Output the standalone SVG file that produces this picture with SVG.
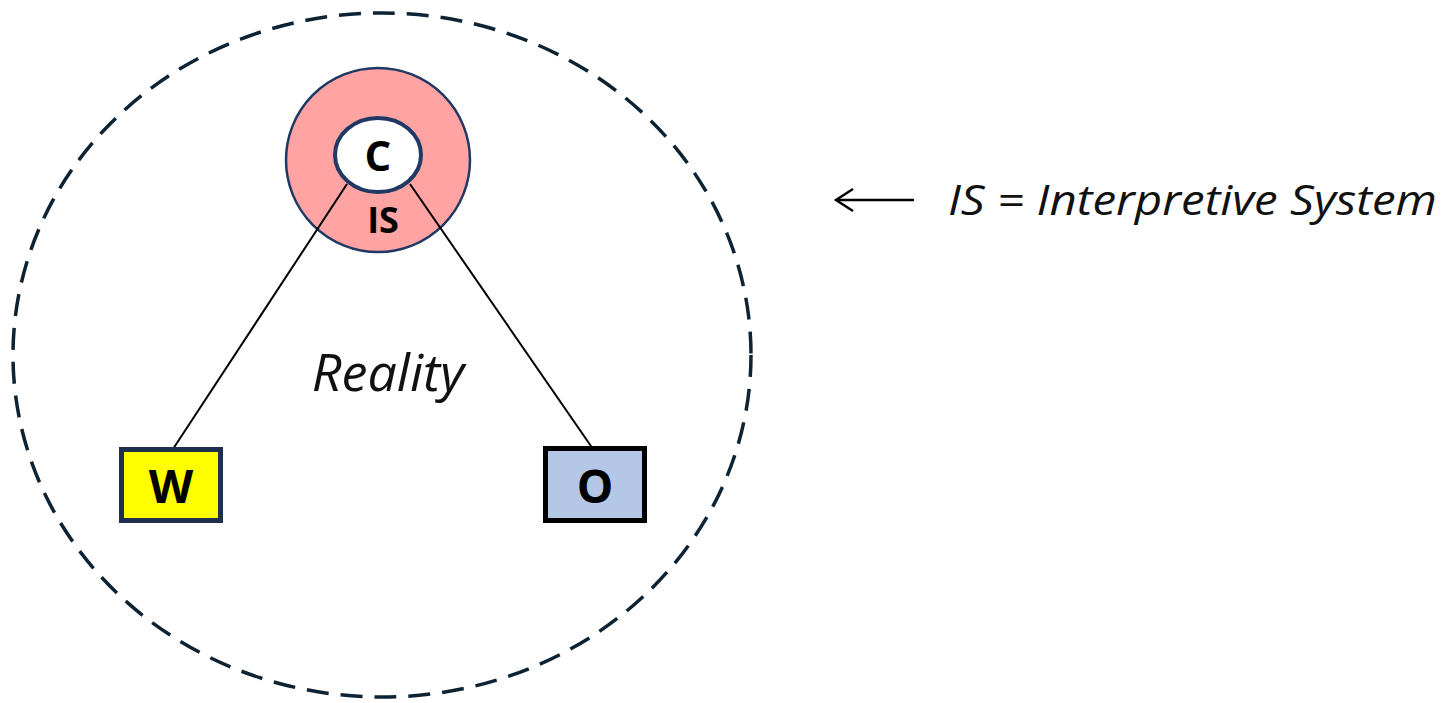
<svg xmlns="http://www.w3.org/2000/svg" width="1444" height="703" viewBox="0 0 1444 703">
<style>
.lbl{font-family:"Open Sans","Liberation Sans",sans-serif;font-weight:bold;fill:#000;text-anchor:middle}
.it{font-family:"Open Sans","Liberation Sans",sans-serif;font-style:italic;fill:#111}
.conn{stroke:#000;stroke-width:2;fill:none}
</style>
<rect width="1444" height="703" fill="#fff"/>
<g id="reality">
<ellipse cx="382" cy="355" rx="369" ry="342" fill="none" stroke="#0d2333" stroke-width="3.5" stroke-dasharray="22 12"/>
<text class="it" x="388" y="391" font-size="52" text-anchor="middle">Reality</text>
</g>
<g id="IS">
<ellipse cx="378" cy="160" rx="92" ry="92" fill="#ffa3a3" stroke="#1f3864" stroke-width="2.5"/>
<text class="lbl" x="383" y="233" font-size="36">IS</text>
</g>
<g id="connectors">
<line class="conn" x1="347" y1="184" x2="173" y2="449"/>
<line class="conn" x1="410" y1="184" x2="593" y2="449"/>
</g>
<g id="C">
<ellipse cx="378" cy="155" rx="43" ry="37" fill="#fff" stroke="#1f3864" stroke-width="4"/>
<text class="lbl" x="378" y="171" font-size="42">C</text>
</g>
<g id="W">
<rect x="121.5" y="449.5" width="99" height="71" fill="#ffff00" stroke="#1f2f50" stroke-width="5"/>
<text class="lbl" x="171" y="503" font-size="46">W</text>
</g>
<g id="O">
<rect x="545.5" y="448.5" width="99" height="72" fill="#b4c7e7" stroke="#000" stroke-width="5"/>
<text class="lbl" x="595" y="503" font-size="46">O</text>
</g>
<g id="legend">
<line x1="914" y1="200" x2="837" y2="200" stroke="#000" stroke-width="2.5"/>
<polyline points="853,189 836,200 853,211" fill="none" stroke="#000" stroke-width="2.5"/>
<text class="it" x="948" y="215" font-size="42" textLength="489" lengthAdjust="spacingAndGlyphs">IS = Interpretive System</text>
</g>
</svg>
